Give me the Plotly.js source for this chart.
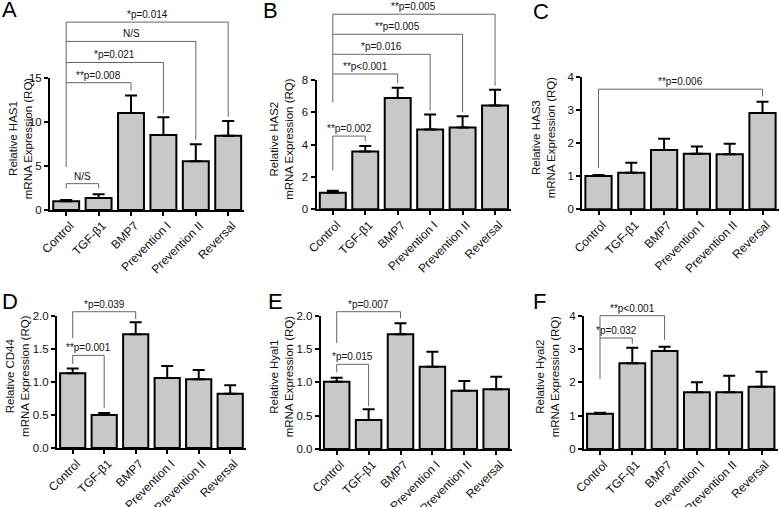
<!DOCTYPE html>
<html>
<head>
<meta charset="utf-8">
<script src="https://cdn.plot.ly/plotly-3.0.1.min.js"></script>
<style>
  body { margin: 0; background: #fff; }
  #chart { width: 779px; height: 507px; }
</style>
</head>
<body>
<div id="chart"></div>
<script>
// groups on the x axis (same for all six panels)
var groups = ["Control", "TGF-β1", "BMP7", "Prevention I", "Prevention II", "Reversal"];

// relative expression (RQ), mean and upper error
var has1 = [1.0, 1.37, 11.05, 8.55, 5.55, 8.45];
var has1Err = [0.13, 0.41, 2.0, 2.0, 1.95, 1.7];
var has2 = [1.03, 3.58, 6.88, 4.94, 5.06, 6.42];
var has2Err = [0.12, 0.33, 0.64, 0.93, 0.7, 0.98];
var has3 = [1.01, 1.11, 1.8, 1.68, 1.67, 2.92];
var has3Err = [0.03, 0.3, 0.34, 0.22, 0.32, 0.34];
var cd44 = [1.13, 0.5, 1.72, 1.06, 1.04, 0.82];
var cd44Err = [0.07, 0.03, 0.18, 0.18, 0.14, 0.13];
var hyal1 = [1.01, 0.435, 1.72, 1.235, 0.875, 0.895];
var hyal1Err = [0.06, 0.16, 0.165, 0.225, 0.145, 0.19];
var hyal2 = [1.06, 2.57, 2.94, 1.7, 1.7, 1.87];
var hyal2Err = [0.03, 0.47, 0.13, 0.3, 0.5, 0.45];

// significance brackets: from Control to group "to", at height "level",
// legs down to "left" (Control side) and "right"
var bracketsA = [
  {to: 1, level: 3.0, left: 2.45, right: 2.45, text: "N/S"},
  {to: 2, level: 14.5, left: 4.9, right: 13.6, text: "**p=0.008"},
  {to: 3, level: 16.8, left: 14.5, right: 11.0, text: "*p=0.021"},
  {to: 4, level: 19.2, left: 16.8, right: 8.0, text: "N/S"},
  {to: 5, level: 21.4, left: 19.2, right: 10.6, text: "*p=0.014"}
];
var bracketsB = [
  {to: 1, level: 4.53, left: 2.4, right: 4.2, text: "**p=0.002"},
  {to: 2, level: 8.37, left: 6.6, right: 7.8, text: "**p<0.001"},
  {to: 3, level: 9.59, left: 8.37, right: 6.1, text: "*p=0.016"},
  {to: 4, level: 10.83, left: 9.59, right: 6.0, text: "**p=0.005"},
  {to: 5, level: 12.07, left: 10.83, right: 7.65, text: "**p=0.005"}
];
var bracketsC = [
  {to: 5, level: 3.64, left: 1.25, right: 3.42, text: "**p=0.006"}
];
var bracketsD = [
  {to: 1, level: 1.40, left: 1.27, right: 0.61, text: "**p=0.001"},
  {to: 2, level: 2.06, left: 1.66, right: 1.95, text: "*p=0.039"}
];
var bracketsE = [
  {to: 1, level: 1.27, left: 1.15, right: 0.645, text: "*p=0.015"},
  {to: 2, level: 2.06, left: 1.59, right: 1.96, text: "*p=0.007"}
];
var bracketsF = [
  {to: 1, level: 3.33, left: 2.1, right: 3.16, text: "*p=0.032"},
  {to: 2, level: 4.0, left: 3.33, right: 3.27, text: "**p<0.001"}
];

var W = 779, H = 507;
var FONT = "Liberation Sans, Arial, sans-serif";

// panel placement in pixels: letter, y-title centre, first bar centre, bar spacing, zero line, top tick
var panels = [
  {letter: "A", lx: 0, ly: 10, tx: 20, gene: "HAS1", y: has1, err: has1Err, br: bracketsA, c0: 66.2, s: 32.4, y0: 210, yt: 78.3, ymax: 15, dtick: 5, fmt: "d"},
  {letter: "B", lx: 261, ly: 10.5, tx: 282, gene: "HAS2", y: has2, err: has2Err, br: bracketsB, c0: 332.8, s: 32.45, y0: 209.3, yt: 80, ymax: 8, dtick: 2, fmt: "d"},
  {letter: "C", lx: 531, ly: 11, tx: 543, gene: "HAS3", y: has3, err: has3Err, br: bracketsC, c0: 598.5, s: 32.8, y0: 209.3, yt: 77.3, ymax: 4, dtick: 1, fmt: "d"},
  {letter: "D", lx: 0, ly: 301.5, tx: 18, gene: "CD44", y: cd44, err: cd44Err, br: bracketsD, c0: 72.7, s: 31.5, y0: 448, yt: 315.7, ymax: 2, dtick: 0.5, fmt: ".1f"},
  {letter: "E", lx: 266, ly: 301, tx: 281, gene: "Hyal1", y: hyal1, err: hyal1Err, br: bracketsE, c0: 336.7, s: 31.9, y0: 449, yt: 315.7, ymax: 2, dtick: 0.5, fmt: ".1f"},
  {letter: "F", lx: 531, ly: 301.5, tx: 547, gene: "Hyal2", y: hyal2, err: hyal2Err, br: bracketsF, c0: 600, s: 32.3, y0: 449, yt: 315.7, ymax: 4, dtick: 1, fmt: "d"}
];

var data = [];
var layout = {
  width: W, height: H,
  margin: {l: 0, r: 0, t: 0, b: 0},
  paper_bgcolor: "#fff", plot_bgcolor: "#fff",
  showlegend: false,
  font: {family: FONT, size: 11, color: "#111"},
  shapes: [], annotations: []
};

panels.forEach(function(p, k) {
  var n = k === 0 ? "" : String(k + 1);
  data.push({
    type: "bar",
    x: groups, y: p.y,
    xaxis: "x" + n, yaxis: "y" + n,
    marker: {color: "#c8c8c8", line: {color: "#000", width: 2}},
    error_y: {type: "data", symmetric: false, array: p.err, arrayminus: p.err.map(function() { return 0; }),
              color: "#000", thickness: 2, width: 6},
    hoverinfo: "none"
  });

  var xl = p.c0 - p.s / 2, xr = p.c0 + 5.5 * p.s;
  layout["xaxis" + n] = {
    domain: [xl / W, Math.min(xr / W, 1)],
    range: [-0.5, 5.5],
    anchor: "y" + n,
    showline: true, linecolor: "#000", linewidth: 2,
    ticks: "outside", ticklen: 4, tickwidth: 2, tickcolor: "#000",
    tickangle: -45, ticklabelshift: 4, ticklabelstandoff: -2,
    tickfont: {size: 12, family: FONT, color: "#111"},
    showgrid: false, zeroline: false, fixedrange: true
  };
  layout["yaxis" + n] = {
    domain: [1 - p.y0 / H, 1 - p.yt / H],
    range: [0, p.ymax],
    anchor: "x" + n,
    dtick: p.dtick, tick0: 0, tickformat: p.fmt,
    showline: true, linecolor: "#000", linewidth: 2,
    ticks: "outside", ticklen: 4, tickwidth: 2, tickcolor: "#000",
    tickfont: {size: 11.5, family: FONT, color: "#111"},
    showgrid: false, zeroline: false, fixedrange: true
  };

  // y axis title, two lines
  layout.annotations.push({
    xref: "paper", yref: "y" + n + " domain",
    x: p.tx / W, y: 0.545, xanchor: "center", yanchor: "middle",
    textangle: -90, showarrow: false,
    text: "Relative " + p.gene + "<br>mRNA Expression (RQ)",
    font: {size: 11.5, family: FONT, color: "#111"}
  });

  // significance brackets
  p.br.forEach(function(b) {
    var lv = b.level / p.ymax;
    layout.shapes.push({
      type: "path", xref: "x" + n, yref: "y" + n + " domain",
      path: "M 0," + (b.left / p.ymax) + " L 0," + lv + " L " + b.to + "," + lv + " L " + b.to + "," + (b.right / p.ymax),
      line: {color: "#666", width: 1}
    });
    layout.annotations.push({
      xref: "x" + n, yref: "y" + n + " domain",
      x: b.to / 2, y: lv, yanchor: "bottom", xanchor: "center",
      text: b.text, showarrow: false,
      font: {size: 10, family: FONT, color: "#111"}
    });
  });

  // panel letter
  layout.annotations.push({
    xref: "paper", yref: "paper",
    x: p.lx / W, y: 1 - p.ly / H, xanchor: "left", yanchor: "middle",
    text: p.letter, showarrow: false,
    font: {size: 22, family: FONT, color: "#000"}
  });
});

Plotly.newPlot("chart", data, layout, {staticPlot: true});
</script>
</body>
</html>
